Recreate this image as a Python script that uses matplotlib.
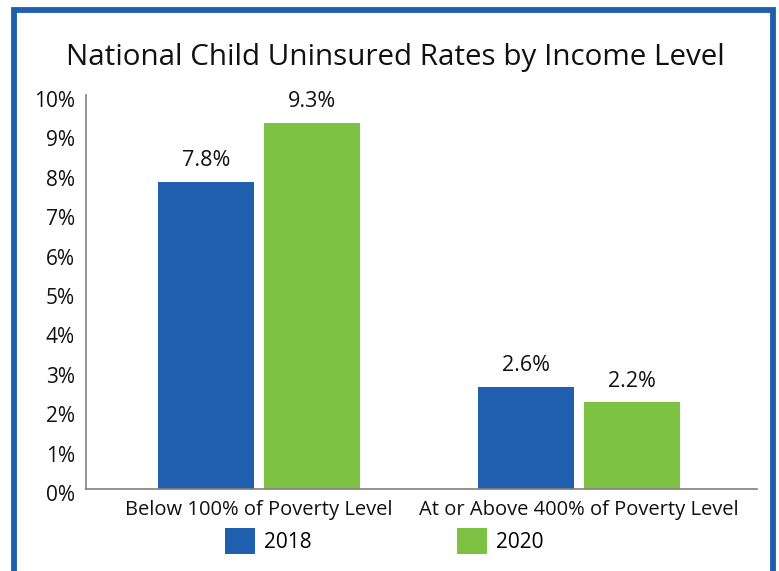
import matplotlib
matplotlib.use("Agg")
import matplotlib.pyplot as plt
import matplotlib.transforms as mtransforms
from matplotlib.patches import Rectangle
import numpy as np

categories = ["Below 100% of Poverty Level", "At or Above 400% of Poverty Level"]
series_names = ["2018", "2020"]
values_2018 = [7.8, 2.6]
values_2020 = [9.3, 2.2]
yticks = [0, 1, 2, 3, 4, 5, 6, 7, 8, 9, 10]
ytick_labels = [f"{t}%" for t in yticks]

BLUE = "#1F5FAD"
GREEN = "#7DC242"
FONT = "Open Sans"
TXT = "#111111"

W, H = 779, 571
fig = plt.figure(figsize=(W / 100, H / 100), dpi=100)
plt.rcParams['font.family'] = [FONT, 'DejaVu Sans']

# axes: x 86..757, y 95..489 (pixels from top)
ax = fig.add_axes([86 / W, 1 - 489 / H, (757 - 86) / W, (489 - 95) / H])

x = np.arange(len(categories))
bw = 0.3
off = 0.1656
b1 = ax.bar(x - off, values_2018, bw, color=BLUE, label=series_names[0])
b2 = ax.bar(x + off, values_2020, bw, color=GREEN, label=series_names[1])

for bars, vals in ((b1, values_2018), (b2, values_2020)):
    for rect, v in zip(bars, vals):
        ax.annotate(f"{v}%", (rect.get_x() + rect.get_width() / 2, v),
                    xytext=(0, 7.5), textcoords="offset points",
                    ha="center", va="bottom", fontsize=15.5, color=TXT)

ax.set_xlim(-0.54, 1.556)
ax.set_ylim(0, 10)
ax.set_yticks(yticks)
ax.set_yticklabels(ytick_labels, fontsize=15, color=TXT)
ax.set_xticks(x)
ax.set_xticklabels(categories, fontsize=14.5, color=TXT)
ax.tick_params(axis="both", length=0)
ax.tick_params(axis="y", pad=8)
ax.tick_params(axis="x", pad=8)
shift = mtransforms.ScaledTranslation(0, -4 / 100, fig.dpi_scale_trans)
for lab in ax.get_yticklabels():
    lab.set_transform(lab.get_transform() + shift)
for s in ("top", "right"):
    ax.spines[s].set_visible(False)
for s in ("left", "bottom"):
    ax.spines[s].set_color("#808080")
    ax.spines[s].set_linewidth(1.2)

fig.text(395 / W, 1 - 57 / H, "National Child Uninsured Rates by Income Level",
         ha="center", va="center", fontsize=21.3, color=TXT)

# legend
fs_leg = 15
px_per_fs = fs_leg * 100 / 72
leg = fig.legend(handles=[b1, b2], labels=series_names, loc="center",
                 bbox_to_anchor=(384 / W, 1 - 541 / H), ncol=2, frameon=False,
                 fontsize=fs_leg, handlelength=30 / px_per_fs,
                 handleheight=31 / px_per_fs,
                 columnspacing=145 / px_per_fs, handletextpad=9 / px_per_fs,
                 borderpad=0, borderaxespad=0)

# blue frame
fig.patches.append(Rectangle((13.5 / W, -0.1), (773 - 13.5) / W, (1 - 9.5 / H) + 0.1,
                             transform=fig.transFigure, fill=False,
                             edgecolor=BLUE, linewidth=4.2))

fig.savefig("out.png", dpi=100)
